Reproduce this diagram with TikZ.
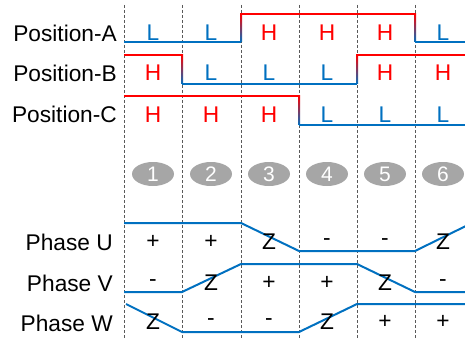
\documentclass[tikz,border=0pt]{standalone}
\usepackage{fontspec}
\setmainfont{Liberation Sans}
\usetikzlibrary{shapes.geometric}
\definecolor{lowblue}{RGB}{0,112,192}
\definecolor{highred}{RGB}{255,0,0}
\definecolor{stepgray}{RGB}{166,166,166}

\begin{document}
\begin{tikzpicture}[x=1pt,y=-1pt,
	font=\fontsize{22.7}{25}\selectfont,
	grid/.style={densely dashed,gray!70!black,line width=0.6pt},
	hiline/.style={highred,line width=2pt},
	loline/.style={lowblue,line width=2pt},
	phline/.style={lowblue,line width=2pt,line join=round},
	hitext/.style={text=highred},
	lotext/.style={text=lowblue},
	steplbl/.style={ellipse,fill=stepgray,text=white,minimum width=42pt,minimum height=24pt,inner sep=0pt,font=\fontsize{21}{23}\selectfont},
	rowlbl/.style={anchor=east,inner sep=0pt}]
	\useasboundingbox (0,0) rectangle (465,339);
	% dashed step borders
	\foreach \x [count=\i] in {124,182,241,299,357,415}
		\draw[grid] (\x,5) coordinate (t\i) -- (\x,339) coordinate (b\i);
	% row labels
	\node[rowlbl] (pa) at (117,33) {Position-A};
	\node[rowlbl] (pb) at (117,73) {Position-B};
	\node[rowlbl] (pc) at (117,114) {Position-C};
	\node[rowlbl] (pu) at (113,242) {Phase U};
	\node[rowlbl] (pv) at (113,283) {Phase V};
	\node[rowlbl] (pw) at (113,323) {Phase W};
	% position A
	\draw[loline] (124,42) -- (241,42);
	\shade[top color=highred,bottom color=lowblue] (240,14) rectangle (242,42);
	\draw[hiline] (241,14) -- (415,14);
	\shade[top color=highred,bottom color=lowblue] (414,14) rectangle (416,42);
	\draw[loline] (415,42) -- (465,42);
	% position B
	\draw[hiline] (124,55) -- (182,55);
	\shade[top color=highred,bottom color=lowblue] (181,55) rectangle (183,84);
	\draw[loline] (182,84) -- (357,84);
	\shade[top color=highred,bottom color=lowblue] (356,55) rectangle (358,84);
	\draw[hiline] (357,55) -- (465,55);
	% position C
	\draw[hiline] (124,96) -- (299,96);
	\shade[top color=highred,bottom color=lowblue] (298,96) rectangle (300,125);
	\draw[loline] (299,125) -- (465,125);
	% sensor levels
	\foreach \s [count=\i] in {L,L,H,H,H,L}
		\node[\if H\s hitext\else lotext\fi] (a\i) at (95+58*\i,33) {\s};
	\foreach \s [count=\i] in {H,L,L,L,H,H}
		\node[\if H\s hitext\else lotext\fi] (b\i) at (95+58*\i,73) {\s};
	\foreach \s [count=\i] in {H,H,H,L,L,L}
		\node[\if H\s hitext\else lotext\fi] (c\i) at (95+58*\i,115) {\s};
	% steps
	\foreach \i in {1,...,6}
		\node[steplbl] (s\i) at (95+58*\i,174) {\i};
	% phase U
	\draw[phline] (124,223) -- (241,223) -- (299,251) -- (415,251) -- (472,223);
	% phase V
	\draw[phline] (124,292) -- (182,292) -- (241,264) -- (357,264) -- (415,292) -- (465,292);
	% phase W
	\draw[phline] (126,304) -- (182,332) -- (299,332) -- (357,304) -- (465,304);
	% phase states
	\foreach \s [count=\i] in {+,+,Z,-,-,Z}
		\node (u\i) at (95+58*\i,242) {\s};
	\foreach \s [count=\i] in {-,Z,+,+,Z,-}
		\node (v\i) at (95+58*\i,283) {\s};
	\foreach \s [count=\i] in {Z,-,-,Z,+,+}
		\node (w\i) at (95+58*\i,322) {\s};
\end{tikzpicture}
\end{document}
